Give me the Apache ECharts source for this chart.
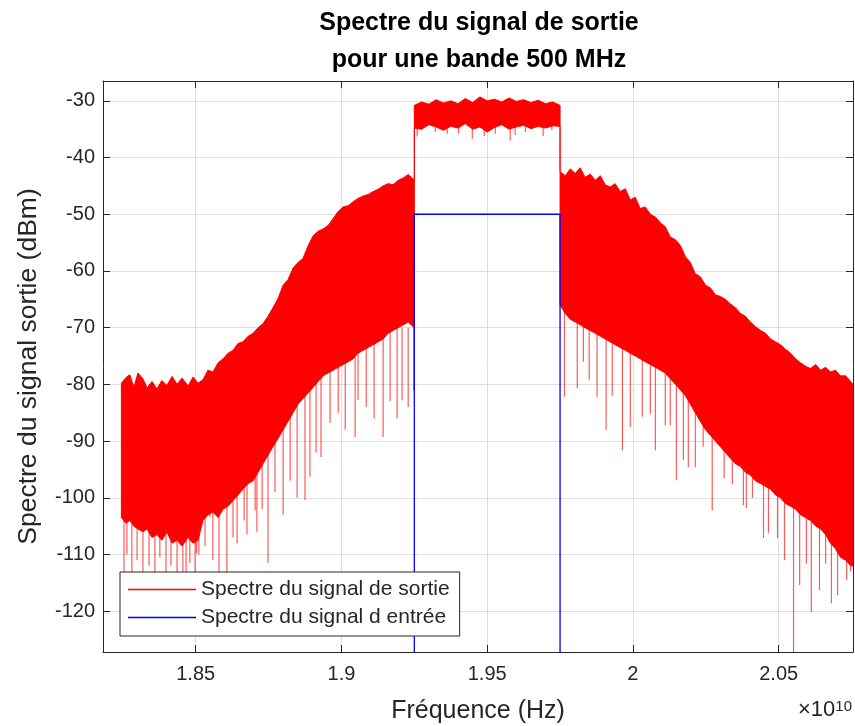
<!DOCTYPE html>
<html>
<head>
<meta charset="utf-8">
<title>Spectre du signal de sortie</title>
<script src="https://cdn.jsdelivr.net/npm/echarts@6.0.0/dist/echarts.min.js"></script>
<style>
  html, body { margin: 0; padding: 0; background: #fff; }
  #chart { width: 855px; height: 726px; }
</style>
</head>
<body>
<div id="chart"></div>
<script>
// frequences en unites de 1e10 Hz, niveaux en dBm
// enveloppe du spectre de sortie : aile gauche
var leftFreq = [1.8245,1.8261,1.8274,1.8288,1.8302,1.8319,1.8333,1.8350,1.8367,1.8384,
  1.8401,1.8419,1.8436,1.8453,1.8474,1.8491,1.8508,1.8525,1.8542,1.8559,
  1.8577,1.8594,1.8611,1.8628,1.8645,1.8662,1.8680,1.8697,1.8714,1.8731,
  1.8748,1.8765,1.8783,1.8800,1.8817,1.8834,1.8851,1.8868,1.8886,1.8903,
  1.8920,1.8937,1.8954,1.8971,1.8989,1.9006,1.9023,1.9040,1.9057,1.9074,
  1.9092,1.9109,1.9126,1.9143,1.9160,1.9177,1.9195,1.9212,1.9229,1.9250];
var leftUpper = [-79.8,-78.8,-78.3,-80.5,-78.0,-79.0,-80.6,-79.5,-80.8,-79.3,
  -80.2,-78.6,-80.0,-78.9,-80.3,-78.7,-79.8,-79.2,-77.5,-77.8,
  -76.2,-75.5,-74.5,-74.0,-72.8,-72.5,-71.5,-71.0,-70.0,-69.3,
  -68.0,-66.5,-64.8,-62.5,-61.5,-59.5,-58.5,-57.8,-55.5,-53.8,
  -53.0,-52.6,-52.0,-50.8,-49.5,-48.7,-48.5,-47.8,-47.2,-46.8,
  -46.5,-46.0,-45.6,-45.0,-44.6,-44.8,-44.0,-43.6,-43.0,-44.0];
var leftLower = [-103.5,-104.5,-104.0,-105.0,-105.5,-106.0,-105.5,-107.0,-106.5,-107.5,
  -106.0,-108.0,-107.5,-108.5,-107.0,-108.0,-107.5,-104.0,-103.0,-102.5,
  -103.5,-102.0,-101.5,-100.5,-99.5,-98.5,-97.5,-97.0,-95.5,-94.0,
  -92.5,-91.0,-89.5,-88.0,-86.5,-85.0,-83.5,-82.5,-81.5,-80.5,
  -79.5,-78.5,-78.0,-77.5,-77.0,-76.5,-76.0,-75.5,-74.5,-74.0,
  -73.5,-73.0,-72.5,-72.0,-71.0,-70.5,-70.0,-69.5,-69.0,-70.0];

// bande utile 500 MHz
var bandFreq = [1.925,1.9275,1.93,1.9325,1.935,1.9375,1.94,1.9425,1.945,1.9475,
  1.95,1.9525,1.955,1.9575,1.96,1.9625,1.965,1.9675,1.97,1.9725,1.975];
var bandUpper = [-30.8,-30.2,-30.6,-29.8,-30.4,-30.0,-30.5,-29.6,-30.3,-29.3,
  -30.0,-29.7,-30.2,-29.5,-30.1,-29.8,-30.3,-29.9,-30.5,-30.2,-30.8];
var bandLower = [-34.8,-35.0,-34.2,-34.6,-35.2,-34.5,-34.8,-34.0,-35.0,-34.6,
  -35.5,-34.7,-34.2,-35.0,-34.6,-34.3,-34.9,-34.5,-34.8,-34.4,-34.5];

// aile droite
var rightFreq = [1.9750,1.9768,1.9785,1.9802,1.9819,1.9836,1.9853,1.9871,1.9888,1.9905,
  1.9922,1.9939,1.9956,1.9974,1.9991,2.0008,2.0025,2.0042,2.0060,2.0077,
  2.0094,2.0111,2.0128,2.0146,2.0163,2.0180,2.0197,2.0214,2.0231,2.0249,
  2.0266,2.0283,2.0300,2.0317,2.0334,2.0352,2.0369,2.0386,2.0403,2.0420,
  2.0438,2.0455,2.0472,2.0489,2.0506,2.0523,2.0541,2.0558,2.0575,2.0592,
  2.0609,2.0627,2.0644,2.0661,2.0678,2.0695,2.0712,2.0730,2.0747,2.0755];
var rightUpper = [-42.5,-43.2,-42.0,-42.8,-41.8,-43.5,-42.9,-44.0,-43.2,-44.8,
  -45.2,-44.6,-46.0,-45.5,-47.5,-47.0,-49.0,-48.7,-50.0,-50.5,
  -51.5,-52.2,-54.0,-54.5,-55.5,-57.5,-58.5,-60.5,-61.0,-62.5,
  -63.0,-64.2,-64.5,-65.0,-65.8,-66.5,-67.5,-68.0,-69.0,-69.8,
  -70.5,-71.0,-72.0,-72.5,-73.0,-73.8,-74.5,-75.5,-76.2,-76.8,
  -77.2,-76.5,-77.5,-77.0,-77.8,-77.5,-78.5,-78.5,-79.5,-80.0];
var rightLower = [-66.0,-67.5,-68.5,-69.0,-69.5,-70.0,-70.5,-71.0,-71.5,-72.0,
  -72.5,-73.0,-73.5,-74.0,-74.5,-75.0,-75.5,-76.0,-76.5,-77.0,
  -77.5,-78.0,-79.0,-80.0,-81.0,-82.0,-83.5,-85.0,-86.5,-88.0,
  -89.0,-90.0,-91.0,-92.0,-93.0,-94.0,-94.5,-95.5,-96.0,-97.0,
  -97.5,-98.0,-98.5,-99.5,-100.0,-101.0,-101.5,-102.0,-103.0,-103.5,
  -104.0,-105.0,-105.5,-106.5,-108.0,-109.0,-110.5,-111.0,-112.0,-112.0];

// pics vers le bas (creux du spectre)
var spikeFreq = [1.8254,1.8264,1.8281,1.8299,1.8319,1.8340,1.8360,1.8377,1.8398,1.8415,
  1.8436,1.8456,1.8467,1.8480,1.8498,1.8511,1.8532,1.8559,1.8580,1.8607,
  1.8628,1.8642,1.8666,1.8676,1.8710,1.8728,1.8748,1.8772,1.8800,1.8824,
  1.8848,1.8875,1.8892,1.8913,1.8930,1.8961,1.8989,1.9013,1.9047,1.9057,
  1.9085,1.9112,1.9143,1.9167,1.9191,1.9208,1.9229,1.9248,
  1.9260,1.9322,1.9363,1.9402,1.9449,1.9490,1.9528,1.9579,1.9596,1.9631,1.9692,1.9722,
  1.9765,1.9809,1.9830,1.9850,1.9877,1.9908,1.9929,1.9964,1.9991,2.0032,
  2.0060,2.0077,2.0111,2.0128,2.0149,2.0173,2.0190,2.0214,2.0241,2.0272,
  2.0313,2.0341,2.0379,2.0389,2.0410,2.0448,2.0465,2.0496,2.0520,2.0551,
  2.0572,2.0595,2.0612,2.0640,2.0661,2.0681,2.0702,2.0719,2.0733,2.0747,
  1.8549,1.8704,1.8503];
var spikeTop = [-100,-100,-100,-100,-100,-100,-100,-100,-100,-100,
  -100,-100,-100,-100,-100,-100,-98,-98,-98,-98,
  -92,-92,-92,-92,-92,-92,-86,-86,-86,-80,
  -80,-80,-80,-75,-75,-75,-75,-70,-70,-70,
  -70,-70,-70,-70,-70,-70,-70,-44,
  -33,-33,-33,-33,-33,-33,-33,-33,-33,-33,-33,-33,
  -66,-66,-66,-66,-66,-66,-66,-72,-72,-72,
  -72,-72,-72,-72,-78,-78,-78,-78,-78,-86,
  -86,-86,-86,-86,-86,-94,-94,-94,-94,-94,
  -100,-100,-100,-100,-100,-100,-100,-100,-100,-100,
  -98,-92,-100];
var spikeLow = [-114,-110,-114,-111,-114,-112,-114,-110.5,-114,-112,
  -114,-113,-114,-111.5,-113.5,-110,-108.5,-111,-114,-114,
  -107,-108,-104,-106.5,-106,-102,-111.5,-99,-103,-97,
  -100,-100.4,-96.3,-92,-92.8,-86.8,-85,-88,-89.3,-82.8,
  -84,-86,-89.3,-83,-86,-82.8,-84,-81,
  -36.3,-35.5,-35.8,-35.8,-36.7,-36.2,-35.8,-37.0,-36.0,-35.5,-36.2,-35.2,
  -82.2,-80.7,-76,-79.2,-82.2,-88,-82,-91.6,-87.5,-85.7,
  -85.2,-91.6,-87.2,-87.2,-96.9,-93.4,-94.6,-94.6,-91,-102.2,
  -96.5,-97.6,-101.3,-101.8,-100,-107.1,-106.2,-107.1,-111,-130,
  -115.4,-111.6,-120.2,-116.3,-111.6,-118.6,-117.2,-110.6,-114.5,-113,
  -103.4,-102.2,-109.8];

// spectre du signal d'entree
var inputFreq = [1.925, 1.925, 1.975, 1.975];
var inputLevel = [-140, -50, -50, -140];

var xTicks = [1.85, 1.9, 1.95, 2, 2.05];
var yTicks = [-120, -110, -100, -90, -80, -70, -60, -50, -40, -30];

var outName = 'Spectre du signal de sortie';
var inName = 'Spectre du signal d entrée';
var font = '"Liberation Sans", Arial, Helvetica, sans-serif';
var ink = '#262626';

var freq = leftFreq.concat(bandFreq, rightFreq);
var upper = leftUpper.concat(bandUpper, rightUpper);
var lower = leftLower.concat(bandLower, rightLower);
// une ligne par point : [f, haut, bas]
var envData = freq.map(function (f, i) { return [f, upper[i], lower[i]]; });
var spikeData = spikeFreq.map(function (f, i) { return [f, spikeTop[i], spikeLow[i]]; });
var inputData = inputFreq.map(function (f, i) { return [f, inputLevel[i]]; });

function isTick(list, v) {
  for (var i = 0; i < list.length; i++) {
    if (Math.abs(list[i] - v) < 1e-6) return true;
  }
  return false;
}

var xMin = 1.8182, xMax = 2.0755;
var yMin = -127.2, yMax = -26.5;

var chart = echarts.init(document.getElementById('chart'), null, { renderer: 'canvas' });

var boxAxisX = {
  type: 'value', min: xMin, max: xMax, minInterval: 0.05, maxInterval: 0.05, splitNumber: 5
};
var boxAxisY = {
  type: 'value', min: yMin, max: yMax, minInterval: 10, maxInterval: 10, splitNumber: 10
};

// le spectre de sortie : polygone entre enveloppe haute et basse
function renderEnvelope(params, api) {
  if (params.dataIndex !== 0) return null;
  var top = [], bot = [];
  for (var i = 0; i < envData.length; i++) {
    top.push(api.coord([envData[i][0], envData[i][1]]));
    bot.push(api.coord([envData[i][0], envData[i][2]]));
  }
  var pts = top.concat(bot.reverse());
  return {
    type: 'polygon',
    shape: { points: pts },
    style: { fill: '#ff0000', stroke: '#ff0000', lineWidth: 1 }
  };
}

chart.setOption({
  animation: false,
  backgroundColor: '#ffffff',
  textStyle: { fontFamily: font },
  title: {
    text: 'Spectre du signal de sortie\npour une bande 500 MHz',
    left: 474,
    top: 0,
    textAlign: 'center',
    textStyle: { fontFamily: font, fontSize: 25, fontWeight: 'bold', color: '#000', lineHeight: 37 }
  },
  grid: { left: 103, right: 2, top: 81, bottom: 74, containLabel: false, outerBoundsMode: 'none' },
  legend: {
    orient: 'vertical',
    left: 120,
    top: 572,
    padding: [7, 10, 8, 8],
    itemGap: 7,
    itemWidth: 68,
    itemHeight: 1.5,
    backgroundColor: '#ffffff',
    borderColor: ink,
    borderWidth: 1,
    borderRadius: 0,
    textStyle: { fontFamily: font, fontSize: 21, color: ink },
    data: [{ name: outName, icon: 'rect' }, { name: inName, icon: 'rect' }],
    selectedMode: false,
    z: 10
  },
  xAxis: [
    Object.assign({}, boxAxisX, {
      position: 'bottom',
      name: 'Fréquence (Hz)',
      nameLocation: 'middle',
      nameGap: 47,
      nameTextStyle: { fontFamily: font, fontSize: 25, color: ink },
      axisLine: { show: true, onZero: false, lineStyle: { color: ink, width: 1 } },
      axisTick: { show: true, inside: true, length: 7, lineStyle: { color: ink } },
      axisLabel: {
        margin: 12, fontSize: 20, color: ink, fontFamily: font,
        showMinLabel: false, showMaxLabel: false,
        formatter: function (v) { return isTick(xTicks, v) ? String(+v.toFixed(2)) : ''; }
      },
      splitLine: { show: true, lineStyle: { color: '#dfdfdf', width: 1 } }
    }),
    Object.assign({}, boxAxisX, {
      position: 'top',
      axisLine: { show: true, onZero: false, lineStyle: { color: ink, width: 1 } },
      axisTick: { show: true, inside: true, length: 7, lineStyle: { color: ink } },
      axisLabel: { show: false },
      splitLine: { show: false }
    })
  ],
  yAxis: [
    Object.assign({}, boxAxisY, {
      position: 'left',
      name: 'Spectre du signal sortie (dBm)',
      nameLocation: 'middle',
      nameGap: 61,
      nameRotate: 90,
      nameTextStyle: { fontFamily: font, fontSize: 26.5, color: ink },
      axisLine: { show: true, onZero: false, lineStyle: { color: ink, width: 1 } },
      axisTick: { show: true, inside: true, length: 7, lineStyle: { color: ink } },
      axisLabel: {
        margin: 8, fontSize: 20, color: ink, fontFamily: font,
        showMinLabel: false, showMaxLabel: false,
        formatter: function (v) { return isTick(yTicks, v) ? String(Math.round(v)) : ''; }
      },
      splitLine: { show: true, lineStyle: { color: '#dfdfdf', width: 1 } }
    }),
    Object.assign({}, boxAxisY, {
      position: 'right',
      axisLine: { show: true, onZero: false, lineStyle: { color: ink, width: 1 } },
      axisTick: { show: true, inside: true, length: 7, lineStyle: { color: ink } },
      axisLabel: { show: false },
      splitLine: { show: false }
    })
  ],
  graphic: [{
    type: 'text',
    right: 3,
    top: 699,
    style: {
      text: '×10{s|10}',
      fill: ink,
      font: '22px ' + font,
      rich: { s: { fontSize: 15, fontFamily: font, verticalAlign: 'top', fill: ink } }
    }
  }],
  series: [
    {
      name: outName,
      type: 'custom',
      data: envData,
      encode: { x: 0, y: [1, 2] },
      color: '#ff0000',
      itemStyle: { color: '#ff0000' },
      clip: true,
      silent: true,
      z: 2,
      renderItem: renderEnvelope
    },
    {
      name: 'pics',
      type: 'custom',
      data: spikeData,
      encode: { x: 0, y: [1, 2] },
      clip: true,
      silent: true,
      z: 2,
      renderItem: function (params, api) {
        var a = api.coord([api.value(0), api.value(1)]);
        var b = api.coord([api.value(0), api.value(2)]);
        return {
          type: 'line',
          shape: { x1: a[0], y1: a[1], x2: b[0], y2: b[1] },
          style: { stroke: 'rgba(255,0,0,0.65)', lineWidth: 1.2 }
        };
      }
    },
    {
      name: inName,
      type: 'line',
      data: inputData,
      symbol: 'none',
      color: '#0000ff',
      itemStyle: { color: '#0000ff' },
      lineStyle: { color: '#0000ff', width: 1.3 },
      z: 3
    }
  ]
});
</script>
</body>
</html>
